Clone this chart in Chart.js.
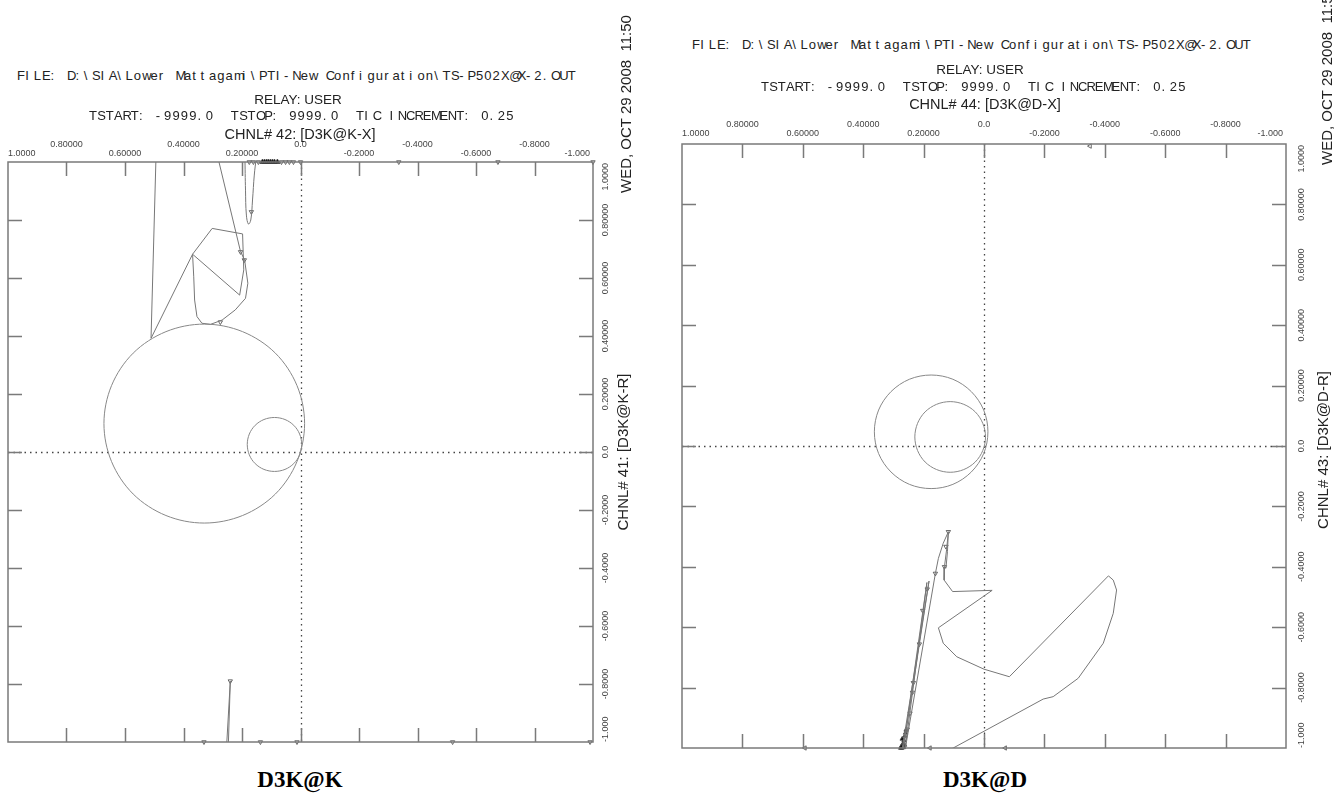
<!DOCTYPE html>
<html>
<head>
<meta charset="utf-8">
<script src="https://cdn.jsdelivr.net/npm/chart.js@4.4.1/dist/chart.umd.min.js"></script>
<style>
  body { margin: 0; width: 1340px; height: 796px; position: relative; overflow: hidden; background: #fff;
         font-family: "Liberation Sans", Arial, sans-serif; color: #222; }
  canvas { position: absolute; }
  .t { position: absolute; white-space: pre; font-size: 13px; line-height: 16px; }
  .mono span { display: inline-block; width: 8.35px; }
  .rot { transform-origin: 0 0; transform: rotate(-90deg); font-size: 15px; }
  .cap { position: absolute; width: 200px; text-align: center; font: bold 23px "Liberation Serif", serif; color: #000; }
</style>
</head>
<body>
<canvas id="plotK" width="640" height="630" style="left:0; top:130px"></canvas>
<canvas id="plotD" width="680" height="650" style="left:660px; top:110px"></canvas>
<div class="cap" style="left:200px; top:767px">D3K@K</div>
<div class="cap" style="left:885px; top:767px">D3K@D</div>
<script>
// ---- text
const fileLine = 'FILE: D:\\SIA\\Lower Mattagami\\PTI-New Configuration\\TS-P502X@X-2.OUT'
const relayLine = 'RELAY: USER'
const timeLine = 'TSTART: -9999.0  TSTOP: 9999.0  TIC INCREMENT: 0.25'

// tick values and labels (same on both axes)
const tickValues = [1, 0.8, 0.6, 0.4, 0.2, 0, -0.2, -0.4, -0.6, -0.8, -1]
const tickLabels = ['1.0000', '0.80000', '0.60000', '0.40000', '0.20000', '0.0', '-0.2000', '-0.4000', '-0.6000', '-0.8000', '-1.000']

// ---- D3K@K : X (horizontal, chnl 42) / R (vertical, chnl 41)
const kBigX = [0.672, 0.646, 0.572, 0.460, 0.329, 0.198, 0.086, 0.012, -0.014, 0.012, 0.086, 0.198, 0.329, 0.460, 0.572, 0.646, 0.672, 0.646, 0.572]
const kBigR = [0.098, 0.229, 0.341, 0.415, 0.441, 0.415, 0.341, 0.229, 0.098, -0.033, -0.145, -0.219, -0.245, -0.219, -0.145, -0.033, 0.098, 0.229, 0.341]
const kSmallX = [0.182, 0.175, 0.155, 0.125, 0.089, 0.053, 0.023, 0.003, -0.004, 0.003, 0.023, 0.053, 0.089, 0.125, 0.155, 0.175, 0.182, 0.175, 0.155]
const kSmallR = [0.026, 0.062, 0.092, 0.112, 0.119, 0.112, 0.092, 0.062, 0.026, -0.010, -0.040, -0.060, -0.067, -0.060, -0.040, -0.010, 0.026, 0.062, 0.092]
const kSwingX = [0.283, 0.205, 0.191, 0.180, 0.188, 0.223, 0.268, 0.308, 0.337, 0.354, 0.362, 0.365, 0.369, 0.208, 0.194, 0.198, 0.302, 0.369, 0.511, 0.494]
const kSwingR = [1.018, 0.691, 0.662, 0.582, 0.530, 0.490, 0.455, 0.440, 0.444, 0.467, 0.524, 0.604, 0.682, 0.541, 0.628, 0.752, 0.771, 0.682, 0.392, 1.018]
const kLoopX = [0.190, 0.188, 0.185, 0.178, 0.170, 0.164, 0.158, 0.151]
const kLoopR = [1.017, 0.903, 0.817, 0.786, 0.800, 0.869, 0.955, 1.017]
const kTailX = [0.253, 0.240, 0.247]
const kTailR = [-1.02, -0.790, -1.02]
const kArrowX = [0.168, 0.205, 0.192, 0.274, 0.240]
const kArrowR = [0.828, 0.690, 0.662, 0.448, -0.790]
const kEdgeX = [0.175, 0.161, 0.144, 0.065, 0.051, 0.038, 0.024, 0.0, -0.336, -0.675, -1.0, 0.330, 0.137, 0.012, -0.520, -0.99]
const kEdgeR = [1, 1, 1, 1, 1, 1, 1, 1, 1, 1, 1, -1, -1, -1, -1, -1]
const kBlobX = [0.130, 0.123, 0.116, 0.110, 0.103, 0.096, 0.089, 0.079]
const kBlobR = [1, 1, 1, 1, 1, 1, 1, 1]

// ---- D3K@D : X (horizontal, chnl 44) / R (vertical, chnl 43)
const dBigX = [0.363, 0.349, 0.308, 0.247, 0.175, 0.103, 0.042, 0.001, -0.013, 0.001, 0.042, 0.103, 0.175, 0.247, 0.308, 0.349, 0.363, 0.349, 0.308]
const dBigR = [0.047, 0.119, 0.180, 0.221, 0.235, 0.221, 0.180, 0.119, 0.047, -0.025, -0.086, -0.127, -0.141, -0.127, -0.086, -0.025, 0.047, 0.119, 0.180]
const dSmallX = [0.229, 0.220, 0.195, 0.157, 0.112, 0.067, 0.029, 0.004, -0.005, 0.004, 0.029, 0.067, 0.112, 0.157, 0.195, 0.220, 0.229, 0.220, 0.195]
const dSmallR = [0.030, 0.075, 0.113, 0.138, 0.147, 0.138, 0.113, 0.075, 0.030, -0.015, -0.053, -0.078, -0.087, -0.078, -0.053, -0.015, 0.030, 0.075, 0.113]
const dSwingX = [0.272, 0.182, 0.268, 0.189, 0.262, 0.161, 0.151, 0.135, 0.118, 0.124, 0.131, 0.132, 0.104, -0.027, 0.151, 0.135, 0.090, 0.0, -0.084, -0.412, -0.428, -0.439, -0.428, -0.395, -0.312, -0.229, -0.196, 0.102, 0.130]
const dSwingR = [-1.01, -0.447, -1.01, -0.452, -1.01, -0.422, -0.372, -0.322, -0.284, -0.344, -0.400, -0.444, -0.482, -0.478, -0.602, -0.653, -0.698, -0.739, -0.764, -0.430, -0.444, -0.477, -0.554, -0.653, -0.769, -0.830, -0.838, -1.0, -1.015]
const dSpikeX = [0.118, 0.121, 0.126]
const dSpikeR = [-0.284, -0.350, -0.405]
const dArrowX = [0.188, 0.203, 0.214, 0.234, 0.237, 0.245, 0.254, 0.118, 0.161, 0.131, 0.126]
const dArrowR = [-0.474, -0.545, -0.656, -0.784, -0.816, -0.885, -0.938, -0.284, -0.422, -0.400, -0.333]
const dEdgeX = [-0.351, 0.593, 0.179, -0.070]
const dEdgeR = [0.993, -1, -1, -1]
const dBlobX = [0.262, 0.265, 0.268, 0.270, 0.266, 0.272, 0.276, 0.260, 0.258, 0.263, 0.271, 0.274]
const dBlobR = [-0.96, -0.975, -0.985, -0.992, -0.998, -1.0, -1.0, -0.95, -0.94, -0.99, -0.97, -0.995]

function pts(xs, rs) { return xs.map((x, i) => ({x: x, y: rs[i]})) }

function trace(xs, rs, color, tension) {
  return { data: pts(xs, rs), showLine: true, borderColor: color, borderWidth: 1,
           pointRadius: 0, tension: tension, fill: false }
}
// closed curve: first and last segment only give the spline its neighbours
function ring(xs, rs, color) {
  const n = xs.length - 1
  return Object.assign(trace(xs, rs, color, 0.34), {
    segment: { borderColor: c => (c.p0DataIndex === 0 || c.p1DataIndex === n) ? 'rgba(0,0,0,0)' : undefined }
  })
}
function marks(xs, rs, turn, filled, size) {
  return { data: pts(xs, rs), showLine: false, pointStyle: 'triangle', pointRadius: size,
           pointRotation: turn, pointBorderColor: '#444', pointBorderWidth: 0.8,
           pointBackgroundColor: filled ? '#111' : 'rgba(255,255,255,0)', clip: false }
}

// frame, inward ticks, dotted zero lines and labels, all placed through the scales
const rxFrame = {
  id: 'rxFrame',
  beforeDatasetsDraw(chart) {
    const {ctx, chartArea: a, scales: {x, y}} = chart
    const x0 = Math.round(x.getPixelForValue(0)) + 0.5
    const y0 = Math.round(y.getPixelForValue(0)) + 0.5
    ctx.save()
    ctx.strokeStyle = '#444'
    ctx.lineWidth = 1.3
    ctx.setLineDash([1.5, 4])
    ctx.beginPath()
    ctx.moveTo(x0, a.top); ctx.lineTo(x0, a.bottom)
    ctx.moveTo(a.left, y0); ctx.lineTo(a.right, y0)
    ctx.stroke()
    ctx.restore()
  },
  afterDatasetsDraw(chart, args, opts) {
    const {ctx, chartArea: a, scales: {x, y}} = chart
    ctx.save()
    ctx.strokeStyle = '#7a7a7a'
    ctx.lineWidth = 1.5
    ctx.strokeRect(a.left, a.top, a.right - a.left, a.bottom - a.top)
    ctx.beginPath()
    tickValues.forEach(v => {
      if (Math.abs(v) === 1) return
      const px = Math.round(x.getPixelForValue(v)) + 0.5
      const py = Math.round(y.getPixelForValue(v)) + 0.5
      ctx.moveTo(px, a.top); ctx.lineTo(px, a.top + 14)
      ctx.moveTo(px, a.bottom); ctx.lineTo(px, a.bottom - 14)
      ctx.moveTo(a.left, py); ctx.lineTo(a.left + 14, py)
      ctx.moveTo(a.right, py); ctx.lineTo(a.right - 14, py)
    })
    ctx.stroke()

    ctx.fillStyle = '#444'
    ctx.font = '9px "Liberation Sans", Arial, sans-serif'
    ctx.textBaseline = 'middle'
    const last = tickValues.length - 1
    tickValues.forEach((v, i) => {
      const px = x.getPixelForValue(v)
      const ty = a.top - (i % 2 === 0 ? opts.low : opts.high)
      ctx.textAlign = i === 0 ? 'left' : (i === last ? 'right' : 'center')
      ctx.fillText(tickLabels[i], i === last ? px - 3 : px, ty)
    })
    tickValues.forEach((v, i) => {
      const py = y.getPixelForValue(v)
      ctx.save()
      ctx.translate(a.right + opts.side, i === 0 ? py + 1 : py)
      ctx.rotate(-Math.PI / 2)
      ctx.textAlign = i === 0 ? 'right' : (i === last ? 'left' : 'center')
      ctx.fillText(tickLabels[i], 0, 0)
      ctx.restore()
    })
    ctx.restore()
  }
}

function rxConfig(datasets, pad, frameOpts) {
  return {
    type: 'scatter',
    data: { datasets: datasets },
    options: {
      responsive: false,
      animation: false,
      layout: { padding: pad },
      plugins: { legend: { display: false }, tooltip: { enabled: false }, rxFrame: frameOpts },
      scales: {
        x: { type: 'linear', min: -1, max: 1, reverse: true, display: false },
        y: { type: 'linear', min: -1, max: 1, display: false }
      }
    },
    plugins: [rxFrame]
  }
}

const chartK = new Chart(document.getElementById('plotK'), rxConfig([
  ring(kBigX, kBigR, '#888'),
  ring(kSmallX, kSmallR, '#888'),
  trace(kSwingX, kSwingR, '#777', 0),
  trace(kLoopX, kLoopR, '#777', 0.4),
  trace(kTailX, kTailR, '#777', 0),
  marks(kArrowX, kArrowR, 180, false, 2.5),
  marks(kEdgeX, kEdgeR, 180, false, 2.5),
  marks(kBlobX, kBlobR, 0, true, 3)
], { left: 8, top: 32, right: 47, bottom: 18 }, { low: 8, high: 17, side: 13 }))

const chartD = new Chart(document.getElementById('plotD'), rxConfig([
  ring(dBigX, dBigR, '#888'),
  ring(dSmallX, dSmallR, '#888'),
  trace(dSwingX, dSwingR, '#777', 0),
  trace(dSpikeX, dSpikeR, '#777', 0),
  marks(dArrowX, dArrowR, 180, false, 2.5),
  marks(dEdgeX, dEdgeR, 270, false, 2.5),
  marks(dBlobX, dBlobR, 0, true, 2.5)
], { left: 22, top: 34, right: 54, bottom: 12 }, { low: 10, high: 19, side: 16 }))

// ---- header text
function textAt(str, left, top, cls, extra) {
  const el = document.createElement('div')
  el.className = 't ' + (cls || '')
  el.textContent = str
  el.style.left = left + 'px'
  el.style.top = top + 'px'
  Object.assign(el.style, extra || {})
  document.body.appendChild(el)
  return el
}
function monoAt(str, left, top) {
  const el = textAt('', left, top, 'mono')
  for (const ch of str) {
    const s = document.createElement('span')
    s.textContent = ch
    el.appendChild(s)
  }
}
function centerAt(str, cx, top, size) {
  textAt(str, cx - 200, top, '', { width: '400px', textAlign: 'center', fontSize: size + 'px' })
}
function upAt(str, cx, bottom) {
  textAt(str, cx - 8, bottom, 'rot')
}
function upCenterAt(str, cx, cy) {
  textAt(str, cx - 8, cy + 150, 'rot', { width: '300px', textAlign: 'center' })
}

monoAt(fileLine, 17, 68)
centerAt(relayLine, 298, 92, 13.5)
monoAt(timeLine, 89, 108)
centerAt('CHNL# 42: [D3K@K-X]', 300, 126, 14.5)
upAt('WED, OCT 29 2008  11:50', 626, 193)
upCenterAt('CHNL# 41: [D3K@K-R]', 623, 452)

monoAt(fileLine, 692, 37)
centerAt(relayLine, 980, 62, 13.5)
monoAt(timeLine, 761, 79)
centerAt('CHNL# 44: [D3K@D-X]', 985, 96, 14.5)
upAt('WED, OCT 29 2008  11:52', 1327, 165)
upCenterAt('CHNL# 43: [D3K@D-R]', 1323, 450)
</script>
</body>
</html>
